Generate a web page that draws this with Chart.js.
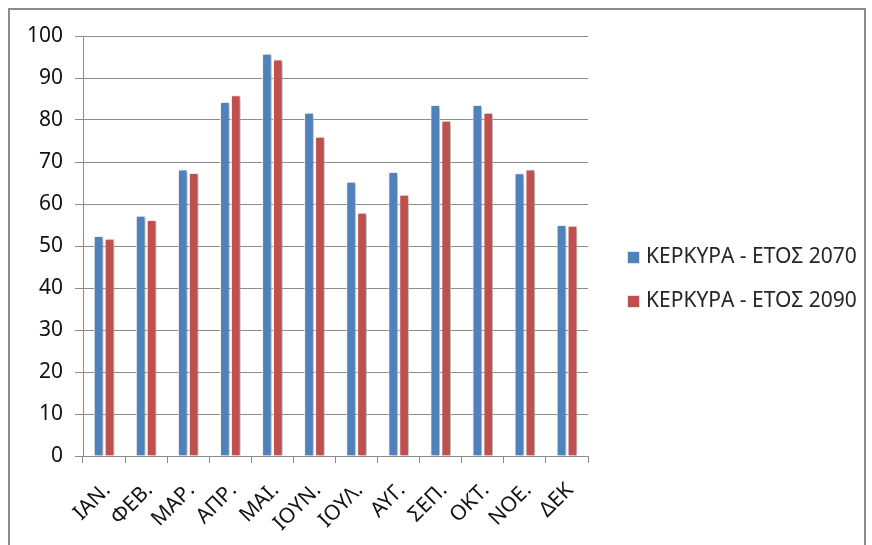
<!DOCTYPE html>
<html>
<head>
<meta charset="utf-8">
<script src="https://cdn.jsdelivr.net/npm/chart.js@4"></script>
<style>
  html, body { margin: 0; padding: 0; background: #fff; }
  #wrap { position: relative; width: 872px; height: 545px; overflow: hidden; }
  #frame { position: absolute; left: 8px; top: 8px; width: 858px; height: 560px; border: 2px solid #8c8c8c; box-sizing: border-box; }
  canvas { position: absolute; left: 0; top: 0; }
</style>
</head>
<body>
<div id="wrap">
  <div id="frame"></div>
  <canvas id="c" width="872" height="545"></canvas>
</div>
<script>
// Monthly values for Kerkyra, two projection years
const months = ['ΙΑΝ.', 'ΦΕΒ.', 'ΜΑΡ.', 'ΑΠΡ.', 'ΜΑΙ.', 'ΙΟΥΝ.', 'ΙΟΥΛ.', 'ΑΥΓ.', 'ΣΕΠ.', 'ΟΚΤ.', 'ΝΟΕ.', 'ΔΕΚ'];
const seriesNames = ['ΚΕΡΚΥΡΑ - ΕΤΟΣ 2070', 'ΚΕΡΚΥΡΑ - ΕΤΟΣ 2090'];
const values2070 = [52.4, 57.2, 68.2, 84.3, 95.8, 81.7, 65.3, 67.6, 83.6, 83.6, 67.3, 55.0];
const values2090 = [51.7, 56.2, 67.4, 85.9, 94.4, 76.0, 57.9, 62.2, 79.8, 81.7, 68.2, 54.8];
const yTicks = [0, 10, 20, 30, 40, 50, 60, 70, 80, 90, 100];

const FONT = "'Noto Sans', 'DejaVu Sans', sans-serif";

// Soft drop shadow behind the bars
const barShadow = {
  id: 'barShadow',
  beforeDatasetsDraw(chart) {
    const ctx = chart.ctx;
    ctx.save();
    ctx.shadowColor = 'rgba(0,0,0,0.35)';
    ctx.shadowBlur = 4;
    ctx.shadowOffsetX = 2;
    ctx.shadowOffsetY = 1;
  },
  afterDatasetsDraw(chart) {
    chart.ctx.restore();
  }
};

// Legend drawn beside the plot, rows spaced evenly around the vertical middle
const sideLegend = {
  id: 'sideLegend',
  afterDraw(chart) {
    const ctx = chart.ctx;
    const items = Chart.defaults.plugins.legend.labels.generateLabels(chart);
    const x0 = chart.chartArea.right + 39;
    const rowGap = 44;
    const yMid = 279;
    const first = yMid - rowGap * (items.length - 1) / 2;
    ctx.save();
    ctx.font = '21px ' + FONT;
    ctx.textBaseline = 'middle';
    ctx.textAlign = 'left';
    items.forEach((it, i) => {
      const y = first + i * rowGap;
      ctx.fillStyle = it.fillStyle;
      ctx.fillRect(x0, y - 6, 13, 13);
      ctx.strokeStyle = 'rgba(255,255,255,0.8)';
      ctx.lineWidth = 1;
      ctx.strokeRect(x0 + 0.5, y - 5.5, 12, 12);
      ctx.fillStyle = '#262626';
      ctx.fillText(it.text, x0 + 19, y);
    });
    ctx.restore();
  }
};

new Chart(document.getElementById('c'), {
  type: 'bar',
  data: {
    labels: months,
    datasets: [
      { label: seriesNames[0], data: values2070, backgroundColor: '#4F81BD', borderColor: 'rgba(255,255,255,0.9)', borderWidth: 1 },
      { label: seriesNames[1], data: values2090, backgroundColor: '#C0504D', borderColor: 'rgba(255,255,255,0.9)', borderWidth: 1 }
    ]
  },
  plugins: [barShadow, sideLegend],
  options: {
    responsive: false,
    animation: false,
    layout: { padding: { left: 10, top: 36, right: 284, bottom: 0 } },
    datasets: { bar: { categoryPercentage: 0.52, barPercentage: 0.88 } },
    plugins: {
      legend: { display: false },
      tooltip: { enabled: false }
    },
    scales: {
      x: {
        afterFit(axis) { axis.height = 89; },
        grid: { display: true, drawOnChartArea: false, drawTicks: true, tickLength: 7, color: '#8c8c8c', offset: true },
        border: { color: '#8c8c8c' },
        ticks: { font: { family: FONT, size: 21 }, color: '#111', maxRotation: 45, minRotation: 45, padding: 15, labelOffset: 3 }
      },
      y: {
        min: 0, max: 100,
        afterBuildTicks(axis) { axis.ticks = yTicks.map(v => ({ value: v })); },
        afterFit(axis) { axis.width = 73; },
        grid: { color: '#8c8c8c', tickLength: 8 },
        border: { color: '#8c8c8c' },
        ticks: { font: { family: FONT, size: 21 }, color: '#111', padding: 12 }
      }
    }
  }
});
</script>
</body>
</html>
